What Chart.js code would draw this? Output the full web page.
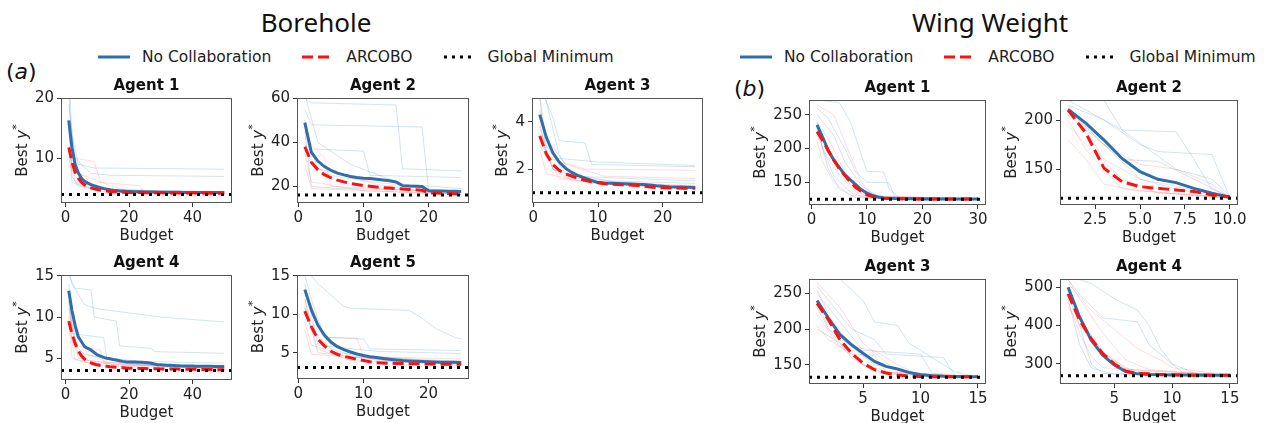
<!DOCTYPE html>
<html>
<head>
<meta charset="utf-8">
<script src="https://cdn.jsdelivr.net/npm/chart.js@4.4.0/dist/chart.umd.min.js"></script>
<style>
  html, body { margin: 0; padding: 0; background: #fff; }
  body { width: 1264px; height: 423px; overflow: hidden; position: relative; }
  canvas { position: absolute; }
  .head { position: absolute; font: 26px 'Noto Sans'; line-height: 30px; color: #111; transform: translateX(-50%); white-space: nowrap; }
  .tag { position: absolute; font: 22px 'DejaVu Sans'; line-height: 26px; color: #111; }
  .legend { position: absolute; display: flex; align-items: center; gap: 31px; font: 15.5px 'DejaVu Sans'; line-height: 18px; color: #222; white-space: nowrap; }
  .legend span { display: flex; align-items: center; }
  .legend svg { margin-right: 12px; }
</style>
</head>
<body>

<div class="head" style="left:316px; top:7px">Borehole</div>
<div class="head" style="left:990px; top:7px">Wing Weight</div>

<div class="legend" style="left:98px; top:48px">
  <span><svg width="32" height="10"><line x1="0" y1="5" x2="32" y2="5" stroke="#2e6fab" stroke-width="3"/></svg>No Collaboration</span>
  <span><svg width="32" height="10"><line x1="0" y1="5" x2="32" y2="5" stroke="#ff1010" stroke-width="3" stroke-dasharray="11 5"/></svg>ARCOBO</span>
  <span><svg width="32" height="10"><line x1="0" y1="5" x2="32" y2="5" stroke="#000" stroke-width="3" stroke-dasharray="3 5"/></svg>Global Minimum</span>
</div>
<div class="legend" style="left:740px; top:48px">
  <span><svg width="32" height="10"><line x1="0" y1="5" x2="32" y2="5" stroke="#2e6fab" stroke-width="3"/></svg>No Collaboration</span>
  <span><svg width="32" height="10"><line x1="0" y1="5" x2="32" y2="5" stroke="#ff1010" stroke-width="3" stroke-dasharray="11 5"/></svg>ARCOBO</span>
  <span><svg width="32" height="10"><line x1="0" y1="5" x2="32" y2="5" stroke="#000" stroke-width="3" stroke-dasharray="3 5"/></svg>Global Minimum</span>
</div>

<div class="tag" style="left:6px; top:59px">(<i>a</i>)</div>
<div class="tag" style="left:734px; top:76px">(<i>b</i>)</div>

<script>
// ---- budgets (x values) ----
const budget50 = [1,2,3,4,5,6,7,8,9,10,11,12,13,14,15,16,17,18,19,20,21,22,23,24,25,26,27,28,29,30,31,32,33,34,35,36,37,38,39,40,41,42,43,44,45,46,47,48,49,50];
const budget30 = [1,2,3,4,5,6,7,8,9,10,11,12,13,14,15,16,17,18,19,20,21,22,23,24,25,26,27,28,29,30];
const budget25 = [1,2,3,4,5,6,7,8,9,10,11,12,13,14,15,16,17,18,19,20,21,22,23,24,25];
const budget15 = [1,2,3,4,5,6,7,8,9,10,11,12,13,14,15];
const budget10 = [1,2,3,4,5,6,7,8,9,10];

// ---- Borehole, agent 1 ----
const bh1NoCollab = [16.3, 11.8, 9.0, 7.6, 6.7, 6.2, 5.9, 5.65, 5.45, 5.3, 5.15, 5.0, 4.9, 4.8, 4.72, 4.66, 4.6, 4.56, 4.52, 4.5, 4.48, 4.47, 4.46, 4.45, 4.44, 4.43, 4.42, 4.41, 4.4, 4.4, 4.39, 4.39, 4.38, 4.38, 4.37, 4.37, 4.36, 4.36, 4.36, 4.35, 4.35, 4.35, 4.34, 4.34, 4.34, 4.34, 4.33, 4.33, 4.33, 4.33];
const bh1Arcobo = [11.8, 9.4, 7.7, 6.7, 6.0, 5.6, 5.3, 5.1, 4.95, 4.82, 4.72, 4.65, 4.58, 4.52, 4.48, 4.45, 4.42, 4.4, 4.38, 4.36, 4.35, 4.34, 4.33, 4.32, 4.31, 4.3, 4.3, 4.29, 4.29, 4.28, 4.28, 4.27, 4.27, 4.26, 4.26, 4.26, 4.25, 4.25, 4.25, 4.24, 4.24, 4.24, 4.24, 4.23, 4.23, 4.23, 4.23, 4.22, 4.22, 4.22];
const bh1Min = 4.0;
const bh1RunsNoCollab = [
  [[1,25],[2,14],[4,9],[9,8.4],[50,8.2]],
  [[1,19],[3,10],[8,7.5],[14,7.2],[50,7.0]],
  [[1,22],[2,9],[6,6],[12,4.8],[50,4.5]],
  [[1,15],[2,7],[4,5.5],[18,4.3],[50,4.2]],
  [[1,12],[3,6],[8,5],[30,4.4],[50,4.3]]
];
const bh1RunsArcobo = [
  [[1,14],[3,10],[9,9.5],[11,6],[23,5.5],[25,4.5],[50,4.3]],
  [[1,10],[2,8],[6,7],[10,5],[50,4.2]],
  [[1,12],[2,6],[7,5],[50,4.1]],
  [[1,9],[4,7.5],[14,5.5],[20,4.6],[50,4.2]],
  [[1,16],[2,11],[5,6],[12,4.5],[50,4.1]]
];
const bh1XTicks = [0, 20, 40];
const bh1YTicks = [10, 20];

// ---- Borehole, agent 2 ----
const bh2NoCollab = [49.0, 35.5, 31.5, 29.0, 27.3, 26.0, 25.2, 24.5, 24.0, 23.7, 23.5, 23.2, 22.9, 22.5, 22.0, 20.3, 20.1, 20.0, 19.9, 18.0, 17.9, 17.9, 17.8, 17.7, 17.6];
const bh2Arcobo = [38.0, 31.0, 27.5, 25.3, 23.9, 22.8, 22.0, 21.3, 20.8, 20.3, 20.0, 19.7, 19.4, 19.2, 19.0, 18.8, 18.6, 18.4, 18.2, 17.0, 16.9, 16.8, 16.7, 16.6, 16.5];
const bh2Min = 16.0;
const bh2RunsNoCollab = [
  [[1,60],[2,58],[15,57],[16,28],[25,27]],
  [[1,55],[2,48],[19,47],[20,18],[25,17.5]],
  [[1,50],[2,37],[10,36],[11,25],[25,24]],
  [[1,45],[2,20],[6,19],[25,18]],
  [[1,62],[3,40],[8,30],[16,21],[25,19]]
];
const bh2RunsArcobo = [
  [[1,40],[2,30],[5,25],[9,23],[25,17]],
  [[1,35],[2,22],[10,18],[25,16.5]],
  [[1,45],[3,28],[12,21],[20,17],[25,16.5]],
  [[1,30],[2,19],[25,16.3]],
  [[1,42],[4,33],[5,20],[25,17]]
];
const bh2XTicks = [0, 10, 20];
const bh2YTicks = [20, 40, 60];

// ---- Borehole, agent 3 ----
const bh3NoCollab = [4.3, 3.35, 2.7, 2.3, 2.03, 1.85, 1.72, 1.62, 1.52, 1.43, 1.41, 1.4, 1.39, 1.38, 1.37, 1.36, 1.35, 1.33, 1.3, 1.28, 1.26, 1.25, 1.24, 1.23, 1.22];
const bh3Arcobo = [3.4, 2.65, 2.2, 1.95, 1.8, 1.7, 1.6, 1.53, 1.47, 1.42, 1.38, 1.36, 1.35, 1.34, 1.33, 1.31, 1.28, 1.24, 1.22, 1.21, 1.2, 1.2, 1.19, 1.19, 1.19];
const bh3Min = 1.0;
const bh3RunsNoCollab = [
  [[1,5.5],[3,4.2],[4,3.2],[8,3.1],[9,2.2],[25,2.1]],
  [[1,5],[2,2.5],[10,2.3],[25,2.15]],
  [[1,4.5],[2,3],[5,1.8],[12,1.5],[25,1.4]],
  [[1,3.8],[3,2],[7,1.6],[20,1.3],[25,1.25]],
  [[1,6],[4,2.6],[6,1.7],[25,1.5]]
];
const bh3RunsArcobo = [
  [[1,4],[2,2.5],[8,2.0],[25,1.95]],
  [[1,3.5],[3,2.0],[6,1.5],[25,1.3]],
  [[1,2.8],[2,1.8],[9,1.4],[25,1.2]],
  [[1,5],[2,3.3],[5,2.2],[11,1.7],[25,1.6]],
  [[1,3],[4,1.6],[15,1.3],[25,1.15]]
];
const bh3XTicks = [0, 10, 20];
const bh3YTicks = [2, 4];

// ---- Borehole, agent 4 ----
const bh4NoCollab = [13.2, 10.8, 9.0, 7.6, 7.0, 6.4, 6.2, 6.0, 5.7, 5.4, 5.25, 5.1, 5.0, 4.93, 4.85, 4.78, 4.7, 4.62, 4.57, 4.55, 4.54, 4.53, 4.52, 4.5, 4.48, 4.45, 4.4, 4.3, 4.22, 4.2, 4.18, 4.16, 4.14, 4.12, 4.1, 4.08, 4.07, 4.06, 4.05, 4.05, 4.04, 4.04, 4.03, 4.03, 4.02, 4.02, 4.01, 4.01, 4.0, 4.0];
const bh4Arcobo = [9.5, 8.0, 6.8, 5.9, 5.3, 4.9, 4.65, 4.45, 4.3, 4.2, 4.12, 4.06, 4.02, 3.98, 3.95, 3.92, 3.89, 3.86, 3.83, 3.8, 3.79, 3.78, 3.77, 3.76, 3.75, 3.74, 3.73, 3.72, 3.71, 3.7, 3.7, 3.69, 3.69, 3.68, 3.68, 3.67, 3.67, 3.66, 3.66, 3.65, 3.65, 3.64, 3.64, 3.63, 3.63, 3.62, 3.62, 3.61, 3.61, 3.6];
const bh4Min = 3.5;
const bh4RunsNoCollab = [
  [[1,16],[2,14],[6,11.5],[10,11],[30,10],[50,9.4]],
  [[1,15],[3,13.5],[8,13.3],[9,10],[16,9.5],[17,6.5],[27,6.2],[28,5.8],[50,5.6]],
  [[1,14],[2,8],[12,7.5],[13,5],[25,4.6],[50,4.4]],
  [[1,12],[3,6.5],[6,5.5],[20,4.3],[50,4.0]],
  [[1,13],[2,10],[4,5],[15,4.2],[50,3.9]]
];
const bh4RunsArcobo = [
  [[1,11],[2,9],[5,7],[7,5.5],[15,4.2],[50,3.8]],
  [[1,9],[3,6],[6,4.5],[50,3.7]],
  [[1,10],[2,5],[10,4.1],[50,3.7]],
  [[1,8],[4,6.5],[11,6],[12,4.5],[50,3.9]],
  [[1,12],[2,7],[3,4.8],[50,3.6]]
];
const bh4XTicks = [0, 20, 40];
const bh4YTicks = [5, 10, 15];

// ---- Borehole, agent 5 ----
const bh5NoCollab = [13.2, 10.6, 8.6, 7.3, 6.4, 5.8, 5.4, 5.1, 4.85, 4.65, 4.5, 4.38, 4.27, 4.17, 4.08, 4.0, 3.95, 3.9, 3.86, 3.83, 3.81, 3.79, 3.77, 3.76, 3.75];
const bh5Arcobo = [10.4, 8.4, 6.8, 5.9, 5.2, 4.8, 4.55, 4.35, 4.15, 4.0, 3.85, 3.72, 3.68, 3.65, 3.62, 3.6, 3.58, 3.57, 3.56, 3.55, 3.54, 3.53, 3.52, 3.51, 3.5];
const bh5Min = 3.1;
const bh5RunsNoCollab = [
  [[1,16],[3,14],[7,11],[8,10.8],[17,10.5],[19,9.5],[21,8.2],[24,7],[25,6.8]],
  [[1,15],[2,12],[4,7],[10,6.8],[11,5.5],[25,5.3]],
  [[1,14],[2,10],[3,6],[12,5.2],[25,4.9]],
  [[1,12],[2,8],[5,5.5],[9,4.5],[25,3.9]],
  [[1,11],[3,5],[15,3.9],[25,3.7]]
];
const bh5RunsArcobo = [
  [[1,12],[2,9],[4,7],[9,6.9],[10,4.5],[25,4.2]],
  [[1,9],[2,6],[6,5],[25,3.6]],
  [[1,11],[3,5.5],[8,4],[25,3.5]],
  [[1,8],[2,4.8],[25,3.4]],
  [[1,13],[2,10],[5,6],[12,4],[25,3.6]]
];
const bh5XTicks = [0, 10, 20];
const bh5YTicks = [5, 10, 15];

// ---- Wing weight, agent 1 ----
const ww1NoCollab = [235, 217, 197.5, 183, 172, 161, 153.5, 146, 138.6, 133.7, 130, 128, 126.5, 126, 125.6, 125.4, 125.3, 125.2, 125.1, 125.1, 125, 125, 125, 125, 125, 125, 125, 125, 125, 125];
const ww1Arcobo = [225, 212, 197, 183, 170, 160, 150, 142, 136, 131, 128.5, 127, 126, 125.6, 125.4, 125.3, 125.2, 125.1, 125.1, 125, 125, 125, 125, 125, 125, 125, 125, 125, 125, 125];
const ww1Min = 124.6;
const ww1RunsNoCollab = [
  [[1,272],[5,268],[7,240],[9,190],[10,166],[13,165],[14,140],[16,126],[30,124.8]],
  [[1,260],[3,245],[6,200],[8,165],[10,150],[14,149],[15,128],[30,125]],
  [[1,240],[2,200],[4,160],[7,135],[10,126],[30,125]],
  [[1,230],[3,170],[5,140],[8,127],[30,125]],
  [[1,250],[4,220],[6,180],[9,145],[12,128],[30,125]]
];
const ww1RunsArcobo = [
  [[1,265],[4,250],[7,190],[9,150],[11,130],[30,125]],
  [[1,220],[3,185],[5,160],[8,135],[12,126],[30,125]],
  [[1,210],[2,180],[4,150],[7,130],[30,125]],
  [[1,240],[3,215],[6,165],[9,140],[13,127],[30,125]],
  [[1,230],[2,215],[5,175],[7,145],[10,128],[30,125]]
];
const ww1XTicks = [0, 10, 20, 30];
const ww1YTicks = [150, 200, 250];

// ---- Wing weight, agent 2 ----
const ww2NoCollab = [210.8, 196.6, 179.7, 161, 147.6, 139.9, 136.5, 130.7, 125.7, 121.6];
const ww2Arcobo = [210, 186.5, 151, 137.5, 132.4, 130.7, 129, 127.4, 124, 122];
const ww2Min = 120.6;
const ww2RunsNoCollab = [
  [[1,225],[3,220],[4,190],[7,188],[8,160],[9,130],[10,122]],
  [[1,215],[3,200],[5,175],[6,168],[9,165],[10,121]],
  [[1,205],[2,190],[4,160],[6,158],[8,140],[10,122]],
  [[1,212],[3,175],[5,140],[7,130],[10,121]],
  [[1,220],[2,210],[4,190],[7,150],[9,140],[10,123]]
];
const ww2RunsArcobo = [
  [[1,215],[2,190],[3,160],[5,140],[10,122]],
  [[1,200],[2,170],[4,130],[10,121]],
  [[1,180],[2,160],[3,135],[5,128],[10,121]],
  [[1,210],[3,175],[5,155],[7,150],[9,135],[10,122]],
  [[1,195],[2,175],[4,140],[6,126],[10,121]]
];
const ww2XTicks = [2.5, 5, 7.5, 10];
const ww2XTickLabels = ['2.5', '5.0', '7.5', '10.0'];
const ww2YTicks = [150, 200];

// ---- Wing weight, agent 3 ----
const ww3NoCollab = [239.8, 215, 192, 178, 166, 154.7, 147.7, 144, 139.3, 136, 134.5, 133.8, 133.5, 133.3, 133.2];
const ww3Arcobo = [236, 212.6, 185, 166, 152.3, 143, 138.4, 135.5, 134.2, 133.6, 133.3, 133.2, 133.1, 133.1, 133];
const ww3Min = 132.6;
const ww3RunsNoCollab = [
  [[1,275],[3,270],[5,240],[6,210],[8,205],[9,180],[11,160],[13,140],[15,133]],
  [[1,260],[2,240],[4,200],[6,185],[7,165],[12,160],[13,135],[15,133]],
  [[1,230],[2,200],[4,175],[6,150],[9,140],[12,134],[15,133]],
  [[1,200],[3,180],[5,150],[8,137],[15,133]],
  [[1,250],[3,210],[5,170],[10,165],[11,138],[15,133]]
];
const ww3RunsArcobo = [
  [[1,255],[2,220],[4,175],[6,170],[8,150],[10,135],[15,133]],
  [[1,220],[3,175],[5,150],[7,137],[15,133]],
  [[1,240],[2,200],[4,160],[6,140],[15,133]],
  [[1,205],[2,185],[4,165],[6,163],[7,140],[15,133]],
  [[1,265],[3,230],[5,180],[8,140],[15,133]]
];
const ww3XTicks = [5, 10, 15];
const ww3YTicks = [150, 200, 250];

// ---- Wing weight, agent 4 ----
const ww4NoCollab = [500, 422, 362, 323, 297, 280, 274, 272, 271.5, 271, 270.8, 270.6, 270.5, 270.4, 270.3];
const ww4Arcobo = [483, 414, 366, 327, 300, 281, 275, 274, 272.5, 271.5, 271, 270.6, 270.4, 270.3, 270.2];
const ww4Min = 269;
const ww4RunsNoCollab = [
  [[1,530],[3,510],[5,470],[7,440],[8,400],[9,340],[10,300],[12,275],[15,270]],
  [[1,520],[2,480],[4,420],[7,410],[8,350],[10,300],[11,275],[15,270]],
  [[1,480],[2,400],[3,300],[4,275],[15,270]],
  [[1,500],[2,420],[4,330],[6,290],[8,272],[15,270]],
  [[1,470],[2,350],[3,290],[5,272],[15,270]]
];
const ww4RunsArcobo = [
  [[1,510],[3,440],[5,390],[7,340],[9,310],[10,290],[15,270]],
  [[1,450],[2,400],[4,330],[6,285],[15,270]],
  [[1,490],[2,430],[3,370],[5,300],[7,275],[15,270]],
  [[1,520],[2,470],[4,380],[6,310],[8,285],[15,270]],
  [[1,460],[2,380],[3,320],[4,290],[15,270]]
];
const ww4XTicks = [5, 10, 15];
const ww4YTicks = [300, 400, 500];

// ---- look ----
const FONT = 'DejaVu Sans';
const BLUE = '#2e6fab';
const RED = '#ff1010';
const BLUE_FAINT = 'rgba(31,119,180,0.2)';
const RED_FAINT = 'rgba(255,40,40,0.16)';
const AXIS_W = 75;    // room for y ticks + y label
const PAD_R = 20;
const TITLE_H = 23;   // 2 + 18 + 3
const XAXIS_H = 42;   // ticks, labels and "Budget"

// plot boxes in page pixels: [left, top, right, bottom]
const panels = [
  { title: 'Agent 1', box: [61, 98, 232, 203], x: [-1.45, 52.45], y: [2.6, 20], budget: budget50, noCollab: bh1NoCollab, arcobo: bh1Arcobo, gmin: bh1Min, runsB: bh1RunsNoCollab, runsR: bh1RunsArcobo, xTicks: bh1XTicks, yTicks: bh1YTicks },
  { title: 'Agent 2', box: [297, 98, 469, 203], x: [-0.2, 26.2], y: [12.4, 60.2], budget: budget25, noCollab: bh2NoCollab, arcobo: bh2Arcobo, gmin: bh2Min, runsB: bh2RunsNoCollab, runsR: bh2RunsArcobo, xTicks: bh2XTicks, yTicks: bh2YTicks },
  { title: 'Agent 3', box: [532, 98, 703, 203], x: [-0.2, 26.2], y: [0.57, 5.0], budget: budget25, noCollab: bh3NoCollab, arcobo: bh3Arcobo, gmin: bh3Min, runsB: bh3RunsNoCollab, runsR: bh3RunsArcobo, xTicks: bh3XTicks, yTicks: bh3YTicks },
  { title: 'Agent 4', box: [61, 275, 232, 380], x: [-1.45, 52.45], y: [2.36, 15.1], budget: budget50, noCollab: bh4NoCollab, arcobo: bh4Arcobo, gmin: bh4Min, runsB: bh4RunsNoCollab, runsR: bh4RunsArcobo, xTicks: bh4XTicks, yTicks: bh4YTicks },
  { title: 'Agent 5', box: [297, 275, 469, 379], x: [-0.2, 26.2], y: [1.6, 15.1], budget: budget25, noCollab: bh5NoCollab, arcobo: bh5Arcobo, gmin: bh5Min, runsB: bh5RunsNoCollab, runsR: bh5RunsArcobo, xTicks: bh5XTicks, yTicks: bh5YTicks },
  { title: 'Agent 1', box: [809, 100, 986, 205], x: [-0.45, 31.45], y: [116, 272], budget: budget30, noCollab: ww1NoCollab, arcobo: ww1Arcobo, gmin: ww1Min, runsB: ww1RunsNoCollab, runsR: ww1RunsArcobo, xTicks: ww1XTicks, yTicks: ww1YTicks },
  { title: 'Agent 2', box: [1060, 100, 1238, 205], x: [0.55, 10.45], y: [113.8, 220.3], budget: budget10, noCollab: ww2NoCollab, arcobo: ww2Arcobo, gmin: ww2Min, runsB: ww2RunsNoCollab, runsR: ww2RunsArcobo, xTicks: ww2XTicks, xLabels: ww2XTickLabels, yTicks: ww2YTicks },
  { title: 'Agent 3', box: [809, 279, 986, 384], x: [0.3, 15.7], y: [123, 270], budget: budget15, noCollab: ww3NoCollab, arcobo: ww3Arcobo, gmin: ww3Min, runsB: ww3RunsNoCollab, runsR: ww3RunsArcobo, xTicks: ww3XTicks, yTicks: ww3YTicks },
  { title: 'Agent 4', box: [1060, 279, 1238, 384], x: [0.3, 15.7], y: [247.5, 521.7], budget: budget15, noCollab: ww4NoCollab, arcobo: ww4Arcobo, gmin: ww4Min, runsB: ww4RunsNoCollab, runsR: ww4RunsArcobo, xTicks: ww4XTicks, yTicks: ww4YTicks }
];

// box around the axes (all four spines)
const framePlugin = {
  id: 'frame',
  afterDatasetsDraw(chart) {
    const a = chart.chartArea, ctx = chart.ctx;
    ctx.save();
    ctx.strokeStyle = '#555';
    ctx.lineWidth = 1;
    ctx.strokeRect(Math.round(a.left) + 0.5, Math.round(a.top) + 0.5, Math.round(a.right - a.left) - 1, Math.round(a.bottom - a.top) - 1);
    ctx.restore();
  }
};

// rotated "Best y*" label with italic y and raised star
const yLabelPlugin = {
  id: 'yLabel',
  afterDraw(chart) {
    const a = chart.chartArea, ctx = chart.ctx;
    ctx.save();
    ctx.font = '15px ' + FONT;
    let maxW = 0;
    chart.scales.y.ticks.forEach(t => { maxW = Math.max(maxW, ctx.measureText(String(t.label)).width); });
    const cx = a.left - 4 - 3 - maxW - 12;
    const cy = (a.top + a.bottom) / 2;
    const parts = [
      { t: 'Best ', f: '15px ' + FONT, dy: 0 },
      { t: 'y', f: 'italic 15px ' + FONT, dy: 0 },
      { t: '*', f: '11px ' + FONT, dy: -6 }
    ];
    let total = 0;
    parts.forEach(p => { ctx.font = p.f; p.w = ctx.measureText(p.t).width; total += p.w; });
    ctx.translate(cx, cy);
    ctx.rotate(-Math.PI / 2);
    ctx.fillStyle = '#222';
    ctx.textBaseline = 'middle';
    ctx.textAlign = 'left';
    let x = -total / 2;
    parts.forEach(p => { ctx.font = p.f; ctx.fillText(p.t, x, p.dy); x += p.w; });
    ctx.restore();
  }
};

function toPoints(xs, ys) {
  return xs.map((x, i) => ({ x: x, y: ys[i] }));
}
function runToPoints(run) {
  return run.map(p => ({ x: p[0], y: p[1] }));
}

function drawPanel(p) {
  const [left, top, right, bottom] = p.box;
  const canvas = document.createElement('canvas');
  canvas.width = AXIS_W + (right - left) + PAD_R;
  canvas.height = TITLE_H + (bottom - top) + XAXIS_H;
  canvas.style.left = (left - AXIS_W) + 'px';
  canvas.style.top = (top - TITLE_H) + 'px';
  document.body.appendChild(canvas);

  // first dataset ends up on top
  const datasets = [
    { data: [{ x: p.x[0], y: p.gmin }, { x: p.x[1], y: p.gmin }], borderColor: '#000', borderWidth: 3, borderDash: [3, 5], borderCapStyle: 'butt' },
    { data: toPoints(p.budget, p.arcobo), borderColor: RED, borderWidth: 3, borderDash: [11, 5], borderCapStyle: 'butt' },
    { data: toPoints(p.budget, p.noCollab), borderColor: BLUE, borderWidth: 3 }
  ];
  p.runsR.forEach(r => datasets.push({ data: runToPoints(r), borderColor: RED_FAINT, borderWidth: 1 }));
  p.runsB.forEach(r => datasets.push({ data: runToPoints(r), borderColor: BLUE_FAINT, borderWidth: 1 }));

  const tickFont = { family: FONT, size: 15 };

  new Chart(canvas, {
    type: 'line',
    data: { datasets: datasets },
    options: {
      responsive: false,
      animation: false,
      devicePixelRatio: 1,
      events: [],
      layout: { padding: { left: 0, right: PAD_R, top: 0, bottom: 0 } },
      elements: { point: { radius: 0 }, line: { tension: 0, fill: false } },
      plugins: {
        legend: { display: false },
        tooltip: { enabled: false },
        title: {
          display: true, text: p.title, fullSize: false, color: '#111',
          font: { family: FONT, size: 15, weight: 'bold', lineHeight: 1.2 },
          padding: { top: 2, bottom: 3 }
        }
      },
      scales: {
        x: {
          type: 'linear', min: p.x[0], max: p.x[1],
          afterBuildTicks: s => { s.ticks = p.xTicks.map(v => ({ value: v })); },
          afterFit: s => { s.height = XAXIS_H; },
          ticks: {
            font: tickFont, color: '#222', padding: 2, maxRotation: 0, autoSkip: false,
            callback: (v, i) => p.xLabels ? p.xLabels[i] : String(v)
          },
          grid: { drawOnChartArea: false, drawTicks: true, tickLength: 4, tickColor: '#333' },
          border: { display: false },
          title: { display: true, text: 'Budget', color: '#222', font: { family: FONT, size: 15, lineHeight: 1.2 }, padding: 0 }
        },
        y: {
          type: 'linear', min: p.y[0], max: p.y[1],
          afterBuildTicks: s => { s.ticks = p.yTicks.map(v => ({ value: v })); },
          afterFit: s => { s.width = AXIS_W; },
          ticks: { font: tickFont, color: '#222', padding: 3, autoSkip: false, callback: v => String(v) },
          grid: { drawOnChartArea: false, drawTicks: true, tickLength: 4, tickColor: '#333' },
          border: { display: false }
        }
      }
    },
    plugins: [framePlugin, yLabelPlugin]
  });
}

panels.forEach(drawPanel);
</script>
</body>
</html>
